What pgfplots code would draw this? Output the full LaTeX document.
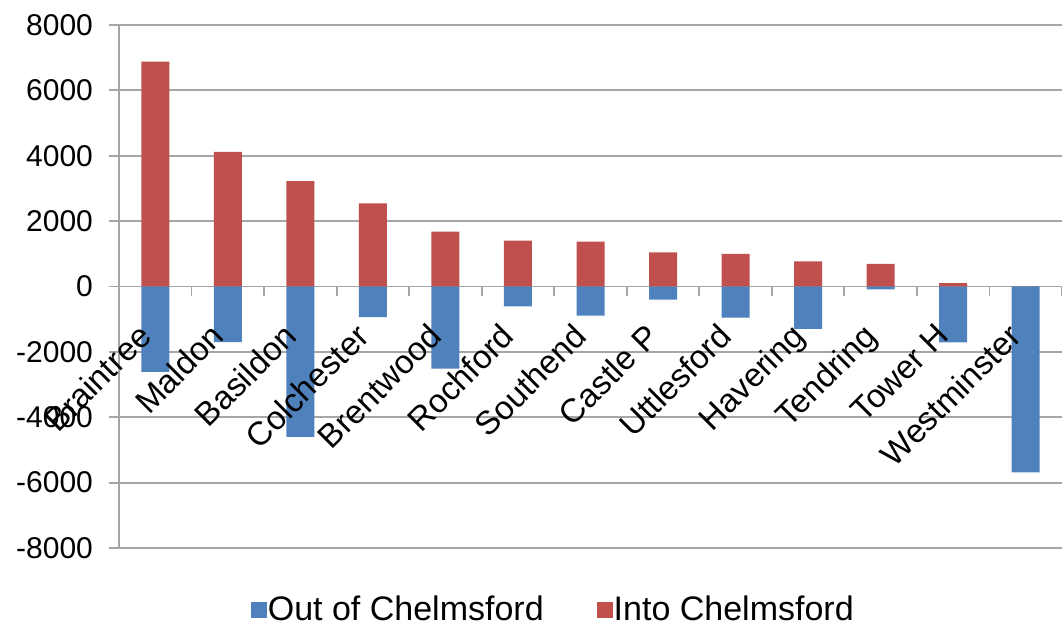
\documentclass[border=0pt]{standalone}
\usepackage{pgfplots}
\pgfplotsset{compat=1.18}
\usepackage{pgfplotstable}
\usepackage{fontspec}
\setmainfont{Liberation Sans}
\definecolor{outblue}{HTML}{4F81BD}
\definecolor{inred}{HTML}{C0504D}
\definecolor{gridgray}{HTML}{A6A6A6}

\pgfplotsset{
  frame/.style={
    at={(0,0)}, anchor=south west,
    scale only axis, width=471.5pt, height=261.5pt,
    xmin=-0.5, xmax=12.5, ymin=-8000, ymax=8000,
    ytick distance=2000,
    axis x line*=middle, axis y line*=left,
    hide obscured x ticks=false,
    x tick label as interval,
    xtick={-0.5,0.5,...,12.5},
    major tick length=5pt, tick align=outside,
    /pgf/number format/assume math mode=true,
    /pgf/number format/1000 sep={},
  },
}

\pgfplotstableread{
x out in
0 -2610 6880
1 -1700 4120
2 -4600 3220
3 -940 2540
4 -2510 1680
5 -610 1400
6 -890 1370
7 -400 1040
8 -950 1000
9 -1300 770
10 -90 690
11 -1710 100
12 -5690 0
}\flows

\begin{document}
\begin{tikzpicture}
% bars, grid, axis lines
\begin{axis}[
    frame,
    ybar, bar width=14pt,
    axis line style={gridgray, line width=0.9pt},
    xticklabels={},
    yticklabel style={xshift=-4.5pt, font=\fontsize{15}{18}\selectfont},
    tick style={gridgray, line width=0.9pt},
    ymajorgrids, grid style={gridgray, line width=0.9pt},
    legend style={at={(0.46,-0.1185)}, anchor=center, legend columns=2, draw=none,
        inner sep=0pt, font=\fontsize{17}{19}\selectfont,
        nodes={inner sep=0.5pt},
        /tikz/every even column/.append style={column sep=26pt}},
    legend image code/.code={\fill[#1] (0pt,-4pt) rectangle (8pt,4pt);},
]
\addplot[fill=outblue, draw=none, bar shift=0pt] table[x=x, y=out] {\flows};
\addplot[fill=inred, draw=none, bar shift=0pt] table[x=x, y=in] {\flows};
\legend{Out of Chelmsford, Into Chelmsford}
\end{axis}
% category names, drawn over the bars
\begin{axis}[
    frame,
    axis line style={draw=none}, tick style={draw=none},
    yticklabels={},
    xticklabels={Braintree,Maldon,Basildon,Colchester,Brentwood,Rochford,Southend,Castle P,Uttlesford,Havering,Tendring,Tower H,Westminster},
    xticklabel style={xshift=-9.5pt, yshift=-12.5pt, rotate=45, anchor=north east,
        inner sep=0pt, font=\fontsize{16.5}{19}\selectfont},
]
\end{axis}
\pgfresetboundingbox
\useasboundingbox (-59.5pt,-38pt) rectangle (471.5pt,274pt);
\end{tikzpicture}
\end{document}
